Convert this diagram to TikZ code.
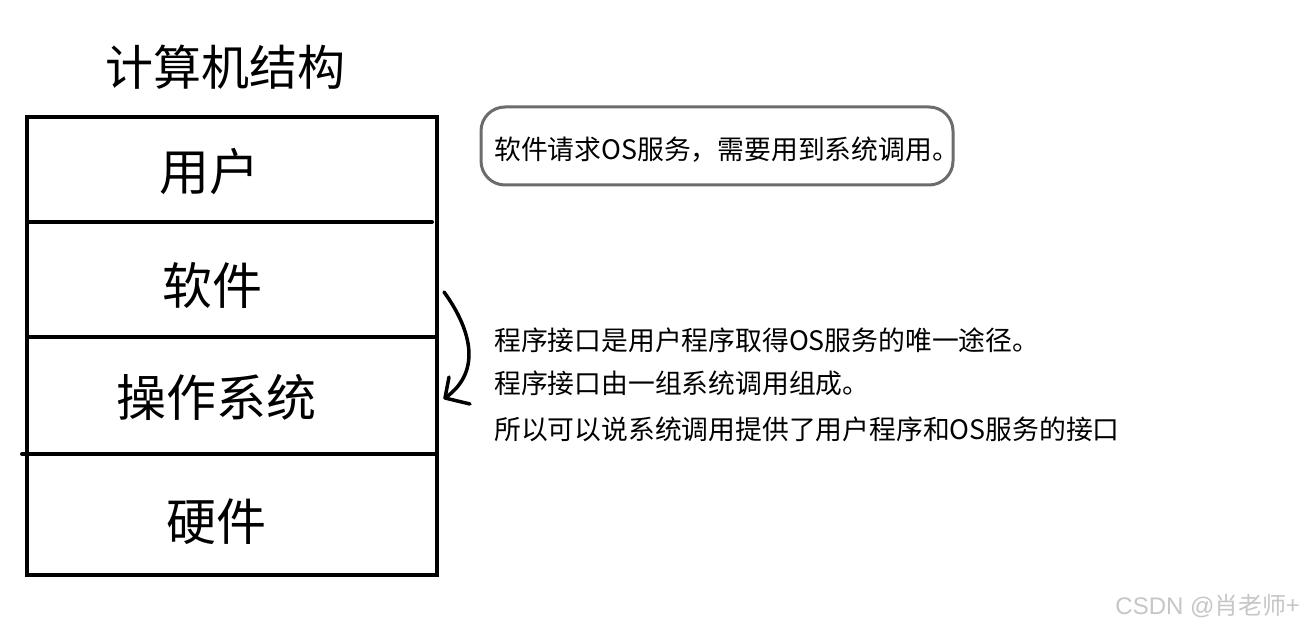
\documentclass[tikz,border=0pt]{standalone}
\usepackage{fontspec}
\setmainfont{Noto Sans CJK SC}
\newfontfamily\wmfont{Liberation Sans}
\begin{document}
\begin{tikzpicture}[x=1pt,y=-1pt,
  layer/.style={font=\fontsize{50}{54}\selectfont, inner sep=0pt, anchor=center},
  thick4/.style={line width=4pt, black},
  note/.style={font=\fontsize{26.8}{30}\selectfont, inner sep=0pt, anchor=west},
  bubble/.style={draw=gray!85!black, line width=3pt, rounded corners=24pt}]
\useasboundingbox (0,0) rectangle (1305,628);
\fill[white] (0,0) rectangle (1305,628);
% title
\node[layer, font=\fontsize{48}{52}\selectfont] (title) at (225,67) {计算机结构};
% stack
\draw[thick4] (27,117) rectangle (437,575);
\coordinate (d1a) at (27,222); \coordinate (d1b) at (432,222);
\coordinate (d2a) at (27,337); \coordinate (d2b) at (437,337);
\coordinate (d3a) at (22,454); \coordinate (d3b) at (437,454);
\draw[thick4, line cap=round] (d1a) -- (d1b);
\draw[thick4] (d2a) -- (d2b);
\draw[thick4, line cap=round] (d3a) -- (d3b);
\node[layer] (user) at (209,172) {用户};
\node[layer] (soft) at (212,285) {软件};
\node[layer] (os) at (216,397) {操作系统};
\node[layer] (hw) at (216,522) {硬件};
% curved arrow
\coordinate (as) at (444,292);
\coordinate (ae) at (445,398);
\draw[line width=3.5pt, line cap=round] (as) .. controls (468,325) and (485,370) .. (ae);
\draw[line width=3.5pt, line cap=round, line join=round] (449,377) -- (ae) -- (470,404);
% bubble
\draw[bubble] (481,107) rectangle (953,185);
\node[note] (req) at (494,150) {软件请求OS服务，需要用到系统调用。};
% notes
\node[note] (n1) at (494,340) {程序接口是用户程序取得OS服务的唯一途径。};
\node[note] (n2) at (494,383) {程序接口由一组系统调用组成。};
\node[note] (n3) at (494,429) {所以可以说系统调用提供了用户程序和OS服务的接口};
% watermark
\node[font=\fontsize{24}{27}\selectfont, text=gray!45, anchor=east, inner sep=0pt] (wm) at (1300,606) {\wmfont CSDN @\normalfont 肖老师+};
\end{tikzpicture}
\end{document}
